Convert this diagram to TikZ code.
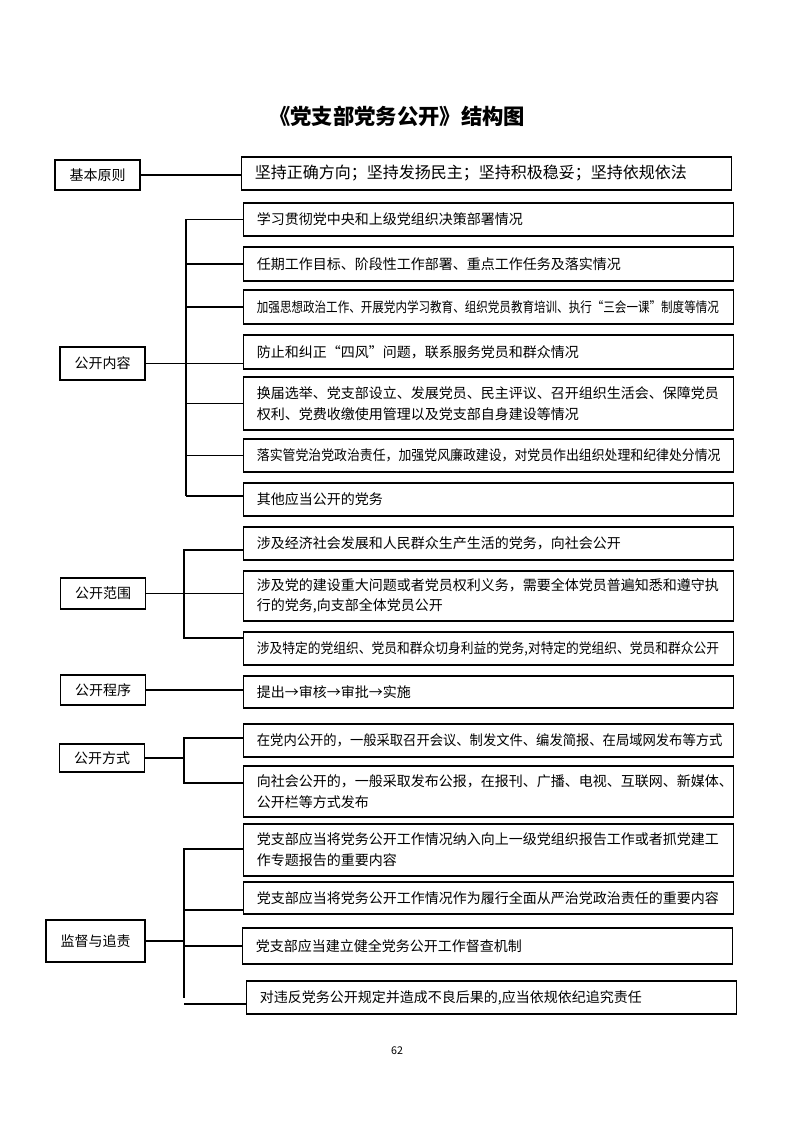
\documentclass[tikz,border=0pt]{standalone}
\usepackage{fontspec}
\setmainfont{Noto Sans CJK SC}
\usetikzlibrary{positioning}

\newcommand{\squash}[2]{\scalebox{#1}[1]{#2}}

\begin{document}
\begin{tikzpicture}[
    x=0.75pt, y=-0.75pt,
    lbox/.style={rectangle, draw, line width=0.9pt, minimum width=63.75pt, minimum height=23pt, inner sep=2pt, font=\fontsize{10.5pt}{13pt}\selectfont},
    rbox/.style={rectangle, draw, line width=0.9pt, anchor=west, minimum height=24.75pt, inner xsep=10pt, text width=347.5pt, align=left, font=\fontsize{10.5pt}{15.5pt}\selectfont},
    link/.style={line width=0.8pt}
]
    \useasboundingbox (0,0) rectangle (793,1122);

    % Title
    \node[font=\fontsize{16pt}{20pt}\selectfont\bfseries] (title) at (397,116) {《党支部党务公开》结构图};

    % Basic principles
    \node[lbox, minimum height=22.5pt] (jb) at (97.5,175) {基本原则};
    \node[rbox, font=\fontsize{12pt}{15pt}\selectfont] (jb1) at (241,173.5) {坚持正确方向；坚持发扬民主；坚持积极稳妥；坚持依规依法};
    \draw[link] (jb.east) -- (jb.east -| jb1.west);

    % Public content
    \node[lbox, minimum height=24.75pt] (nr) at (102.5,363.5) {公开内容};
    \node[rbox] (nr1) at (243,219.5) {学习贯彻党中央和上级党组织决策部署情况};
    \node[rbox, minimum height=25.5pt] (nr2) at (243,264) {任期工作目标、阶段性工作部署、重点工作任务及落实情况};
    \node[rbox, minimum height=25.5pt] (nr3) at (243,307) {\squash{0.825}{加强思想政治工作、开展党内学习教育、组织党员教育培训、执行“三会一课”制度等情况}};
    \node[rbox, minimum height=25.5pt] (nr4) at (243,352) {防止和纠正“四风”问题，联系服务党员和群众情况};
    \node[rbox, minimum height=39.75pt] (nr5) at (243,403.5) {换届选举、党支部设立、发展党员、民主评议、召开组织生活会、保障党员\\权利、党费收缴使用管理以及党支部自身建设等情况};
    \node[rbox] (nr6) at (243,455.5) {\squash{0.92}{落实管党治党政治责任，加强党风廉政建设，对党员作出组织处理和纪律处分情况}};
    \node[rbox] (nr7) at (243,499.5) {其他应当公开的党务};

    \coordinate (nrTop) at (186,219);
    \coordinate (nrBot) at (186,496);
    \draw[link] (nrTop) -- (nrBot);
    \draw[link] (nr.east) -- (nr.east -| nr4.west);
    \foreach \k in {1,2,3,5,6}
        \draw[link] (nrTop |- nr\k.west) -- (nr\k.west);
    \draw[link] (nrBot) -- (nrBot -| nr7.west);

    % Public scope
    \node[lbox, minimum height=23.25pt] (fw) at (103,593.5) {公开范围};
    \node[rbox] (fw1) at (243,543.5) {涉及经济社会发展和人民群众生产生活的党务，向社会公开};
    \node[rbox, minimum height=37.5pt] (fw2) at (243,596) {涉及党的建设重大问题或者党员权利义务，需要全体党员普遍知悉和遵守执\\行的党务,向支部全体党员公开};
    \node[rbox] (fw3) at (243,648.5) {\squash{0.91}{涉及特定的党组织、党员和群众切身利益的党务,对特定的党组织、党员和群众公开}};

    \coordinate (fwTop) at (184,550);
    \coordinate (fwBot) at (184,638);
    \draw[link] (fwTop -| fw1.west) -- (fwTop) -- (fwBot) -- (fwBot -| fw3.west);
    \draw[link] (fw.east) -- (fw.east -| fw2.west);

    % Public procedure
    \node[lbox, minimum height=22.5pt] (cx) at (103,690) {公开程序};
    \node[rbox, minimum height=24pt] (cx1) at (243,692) {提出→审核→审批→实施};
    \draw[link] (cx.east) -- (cx.east -| cx1.west);

    % Public method
    \node[lbox, minimum height=21pt] (fs) at (102,758) {公开方式};
    \node[rbox] (fs1) at (243,740.5) {\squash{0.95}{在党内公开的，一般采取召开会议、制发文件、编发简报、在局域网发布等方式}};
    \node[rbox, minimum height=38.25pt] (fs2) at (243,791.5) {向社会公开的，一般采取发布公报，在报刊、广播、电视、互联网、新媒体、\\公开栏等方式发布};

    \coordinate (fsTop) at (184,738);
    \coordinate (fsBot) at (184,783);
    \draw[link] (fsTop -| fs1.west) -- (fsTop) -- (fsBot) -- (fsBot -| fs2.west);
    \draw[link] (fs.east) -- (fs.east -| fsTop);

    % Supervision and accountability
    \node[lbox, minimum width=74.25pt, minimum height=31.5pt] (jd) at (95.5,941) {监督与追责};
    \node[rbox, minimum height=39pt] (jd1) at (243,850) {党支部应当将党务公开工作情况纳入向上一级党组织报告工作或者抓党建工\\作专题报告的重要内容};
    \node[rbox, minimum height=24pt] (jd2) at (243,898) {党支部应当将党务公开工作情况作为履行全面从严治党政治责任的重要内容};
    \node[rbox, minimum height=27pt] (jd3) at (242,946) {党支部应当建立健全党务公开工作督查机制};
    \node[rbox] (jd4) at (246,997.5) {对违反党务公开规定并造成不良后果的,应当依规依纪追究责任};

    \coordinate (jdTop) at (184,849);
    \coordinate (jdMid) at (184,910);
    \coordinate (jdBot) at (184,998);
    \coordinate (jdEnd) at (184,1004);
    \draw[link] (jdTop -| jd1.west) -- (jdTop) -- (jdBot);
    \draw[link] (jdMid) -- (jdMid -| jd2.west);
    \draw[link] (jdTop |- jd3.west) -- (jd3.west);
    \draw[link] (jdEnd) -- (jdEnd -| jd4.west);
    \draw[link] (jd.east) -- (jd.east -| jdTop);

    % Page number
    \node[font=\fontsize{8pt}{10pt}\selectfont] (pg) at (397,1051) {62};
\end{tikzpicture}
\end{document}
